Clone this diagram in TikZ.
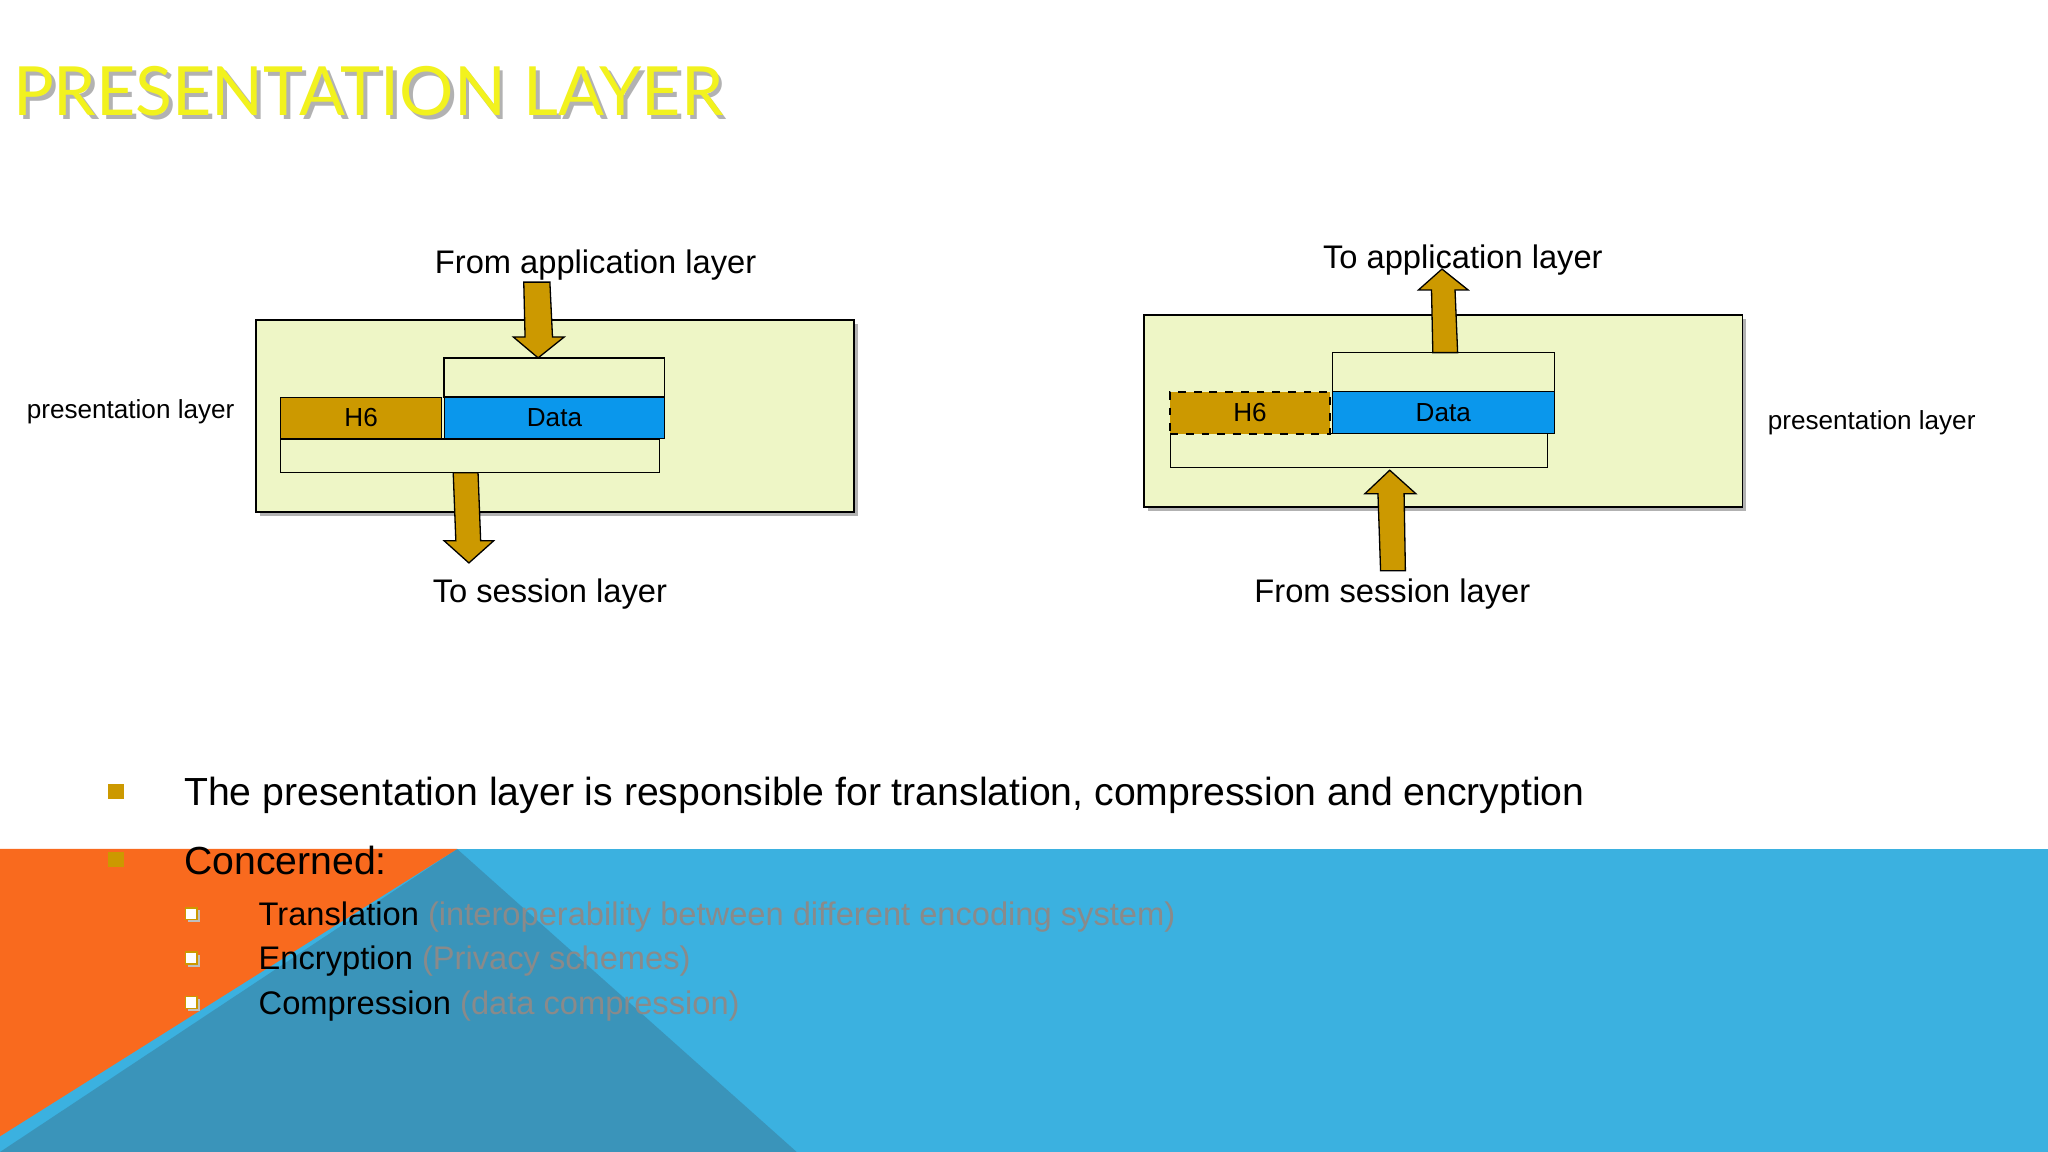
\documentclass[tikz,border=0pt]{standalone}
\usepackage{fontspec}
\setmainfont{Liberation Sans}
\newfontfamily\titlefont{Lato}
\definecolor{lgreen}{HTML}{EEF6C6}
\definecolor{gold}{HTML}{CC9900}
\definecolor{dblue}{HTML}{0A97EC}
\definecolor{sky}{HTML}{3BB1E0}
\definecolor{orng}{HTML}{F96A1E}
\definecolor{teal}{HTML}{3A94BA}
\definecolor{ttl}{HTML}{F2F21E}
\definecolor{greytxt}{HTML}{8A8A8A}
\begin{document}
\begin{tikzpicture}[x=0.5pt,y=-0.5pt,
  lbl/.style={font=\fontsize{12.5}{14}\selectfont},
  side/.style={font=\fontsize{10}{12}\selectfont},
  cell/.style={font=\fontsize{10}{12}\selectfont},
  outer/.style={fill=lgreen,draw=black,line width=0.6pt},
  thin/.style={draw=black,line width=0.5pt},
  garrow/.style={fill=gold,draw=black,line width=0.5pt},
  btxt/.style={anchor=west,font=\fontsize{15}{18}\selectfont},
  stxt/.style={anchor=west,font=\fontsize{12.5}{15}\selectfont}]
\useasboundingbox (0,0) rectangle (1568,882);
\fill[white] (0,0) rectangle (1568,882);
% background
\fill[sky] (0,650) rectangle (1568,882);
\fill[teal] (350,650) -- (610,882) -- (0,882) -- cycle;
\fill[orng] (0,650) -- (350,650) -- (0,870) -- cycle;
% title
\node[anchor=west,text=gray!60,font=\titlefont\fontsize{26}{30}\selectfont] at (6,73) {PRESENTATION LAYER};
\node[anchor=west,text=ttl,font=\titlefont\fontsize{26}{30}\selectfont] (title) at (3,70) {PRESENTATION LAYER};
% left diagram
\fill[gray!60] (199,248) rectangle (657,395);
\draw[outer] (196,245) rectangle (654,392);
\draw[thin] (340,274) rectangle (509,304);
\draw[thin] (215,336) rectangle (505,362);
\node[draw=black,fill=gold,minimum width=61.5pt,minimum height=16pt,inner sep=0,cell] (h6a) at (276.5,320) {H6};
\node[draw=black,fill=dblue,minimum width=84.5pt,minimum height=16pt,inner sep=0,cell] (da) at (424.5,320) {Data};
\draw[garrow] (401,216) -- (421,216) -- (423,258) -- (432,258) -- (412,274) -- (393,258) -- (402,258) -- cycle;
\draw[garrow] (347,362) -- (366,362) -- (368,414) -- (378,414) -- (359,431) -- (340,414) -- (349,414) -- cycle;
\node[lbl] (fa) at (456,203) {From application layer};
\node[lbl] (ts) at (421,455) {To session layer};
\node[side] (pl1) at (100,315) {presentation layer};
% right diagram
\fill[gray!60] (879,244) rectangle (1337,391);
\draw[outer] (876,241) rectangle (1334,388);
\draw[thin] (1020,270) rectangle (1190,300);
\draw[thin] (896,332) rectangle (1185,358);
\node[draw=black,dashed,line width=0.8pt,fill=gold,minimum width=61pt,minimum height=16pt,inner sep=0,cell] (h6b) at (957,316) {H6};
\node[draw=black,fill=dblue,minimum width=85pt,minimum height=16pt,inner sep=0,cell] (db) at (1105,316) {Data};
\draw[garrow] (1097,270) -- (1116,270) -- (1114,222) -- (1124,222) -- (1104,206) -- (1086,222) -- (1096,222) -- cycle;
\draw[garrow] (1057,437) -- (1076,437) -- (1075,378) -- (1084,378) -- (1064,360) -- (1045,378) -- (1055,378) -- cycle;
\node[lbl] (ta) at (1120,199) {To application layer};
\node[lbl] (fs) at (1066,455) {From session layer};
\node[side] (pl2) at (1433,324) {presentation layer};
% bullets
\fill[gold] (83,600) rectangle (95,612);
\fill[gold] (83,652) rectangle (95,664);
\node[btxt] (b1) at (134,609) {The presentation layer is responsible for translation, compression and encryption};
\node[btxt] (b2) at (134,659) {Concerned:};
\foreach \yy in {700,734,768}{
  \fill[gray!50] (144,\yy-3) rectangle (153,\yy+6);
  \draw[gold,fill=white,line width=0.6pt] (142,\yy-5) rectangle (151,\yy+4);
}
\node[stxt] (s1) at (191,702) {Translation \textcolor{greytxt}{(interoperability between different encoding system)}};
\node[stxt] (s2) at (191,736) {Encryption \textcolor{greytxt}{(Privacy schemes)}};
\node[stxt] (s3) at (191,770) {Compression \textcolor{greytxt}{(data compression)}};
\end{tikzpicture}
\end{document}
